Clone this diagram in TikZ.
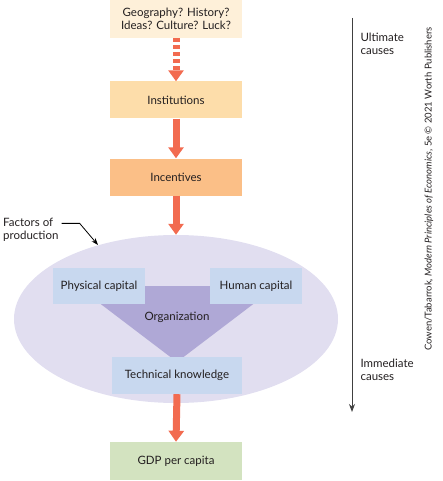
\documentclass[tikz,border=0pt]{standalone}
\usepackage{fontspec}
\setmainfont{Lato}
\usetikzlibrary{arrows.meta,shapes.geometric}
\definecolor{causecream}{HTML}{FEF0D9}
\definecolor{instorange}{HTML}{FDDDAA}
\definecolor{incorange}{HTML}{FBBF87}
\definecolor{arrowred}{HTML}{F26B50}
\definecolor{factorblue}{HTML}{C8D8EF}
\definecolor{factorlilac}{HTML}{E1DEF0}
\definecolor{orglilac}{HTML}{AFA8D6}
\definecolor{gdpgreen}{HTML}{D3E3C0}
\definecolor{textgray}{HTML}{231F20}

\begin{document}
\begin{tikzpicture}[x=1pt,y=-1pt,font=\fontsize{11.5}{13.5}\selectfont,text=textgray]
  \tikzstyle{box}=[rectangle,minimum width=132pt,minimum height=37pt,inner sep=2pt,align=center]
  \tikzstyle{factor}=[rectangle,fill=factorblue,minimum height=36pt,inner sep=2pt]
  \tikzstyle{fat}=[draw=arrowred,line width=7pt,-{Triangle[width=15pt,length=11pt]}]
  \useasboundingbox (0,0) rectangle (443,481);
  % the chain of causes
  \node[box,fill=causecream,minimum height=38pt] (C_1) at (176,19) {Geography? History?\\Ideas? Culture? Luck?};
  \node[box,fill=instorange] (C_2) at (176,100) {Institutions};
  \node[box,fill=incorange] (C_3) at (176,177) {Incentives};
  \node[ellipse,fill=factorlilac,minimum width=324pt,minimum height=168pt] (F) at (176,319) {};
  \fill[orglilac] (77,286) -- (277,286) -- (177,362) -- cycle;
  \node (F_org) at (177,317) {Organization};
  \node[factor,minimum width=92pt] (F_phys) at (99,286) {Physical capital};
  \node[factor,minimum width=92pt] (F_hum) at (256,286) {Human capital};
  \node[factor,minimum width=130pt,minimum height=37pt] (F_tech) at (177,375.5) {Technical knowledge};
  \node[box,fill=gdpgreen,minimum height=38pt] (C_4) at (176,461) {GDP per capita};
  \draw[fat,dash pattern=on 4pt off 3pt] (C_1.south) -- (C_2.north);
  \draw[fat] (C_2.south) -- (C_3.north);
  \draw[fat] (C_3.south) -- (F.north);
  \draw[fat] (F_tech.south) -- (C_4.north);
  % label for the ellipse
  \node[align=left,anchor=west,inner sep=0pt] (F_lab) at (3,230) {Factors of\\production};
  \coordinate (F_tip) at (98,245);
  \draw[-{Stealth[length=7pt,width=5pt]},line width=0.8pt] ([xshift=3pt,yshift=-5.5pt]F_lab.north east) -- ++(18,0) -- (F_tip);
  % ultimate to immediate
  \coordinate (A_top) at (352,18);
  \coordinate (A_bot) at (352,412);
  \draw[draw=black!75,line width=1pt,-{Stealth[length=8pt,width=6pt]}] (A_top) -- (A_bot);
  \node[align=left,anchor=west] (A_ult) at (357,44) {Ultimate\\causes};
  \node[align=left,anchor=west] (A_imm) at (357,370) {Immediate\\causes};
  \node[rotate=90,font=\fontsize{9.5}{11}\selectfont] (credit) at (429,189) {Cowen/Tabarrok, \textit{Modern Principles of Economics}, 5e \textcopyright{} 2021 Worth Publishers};
\end{tikzpicture}
\end{document}
